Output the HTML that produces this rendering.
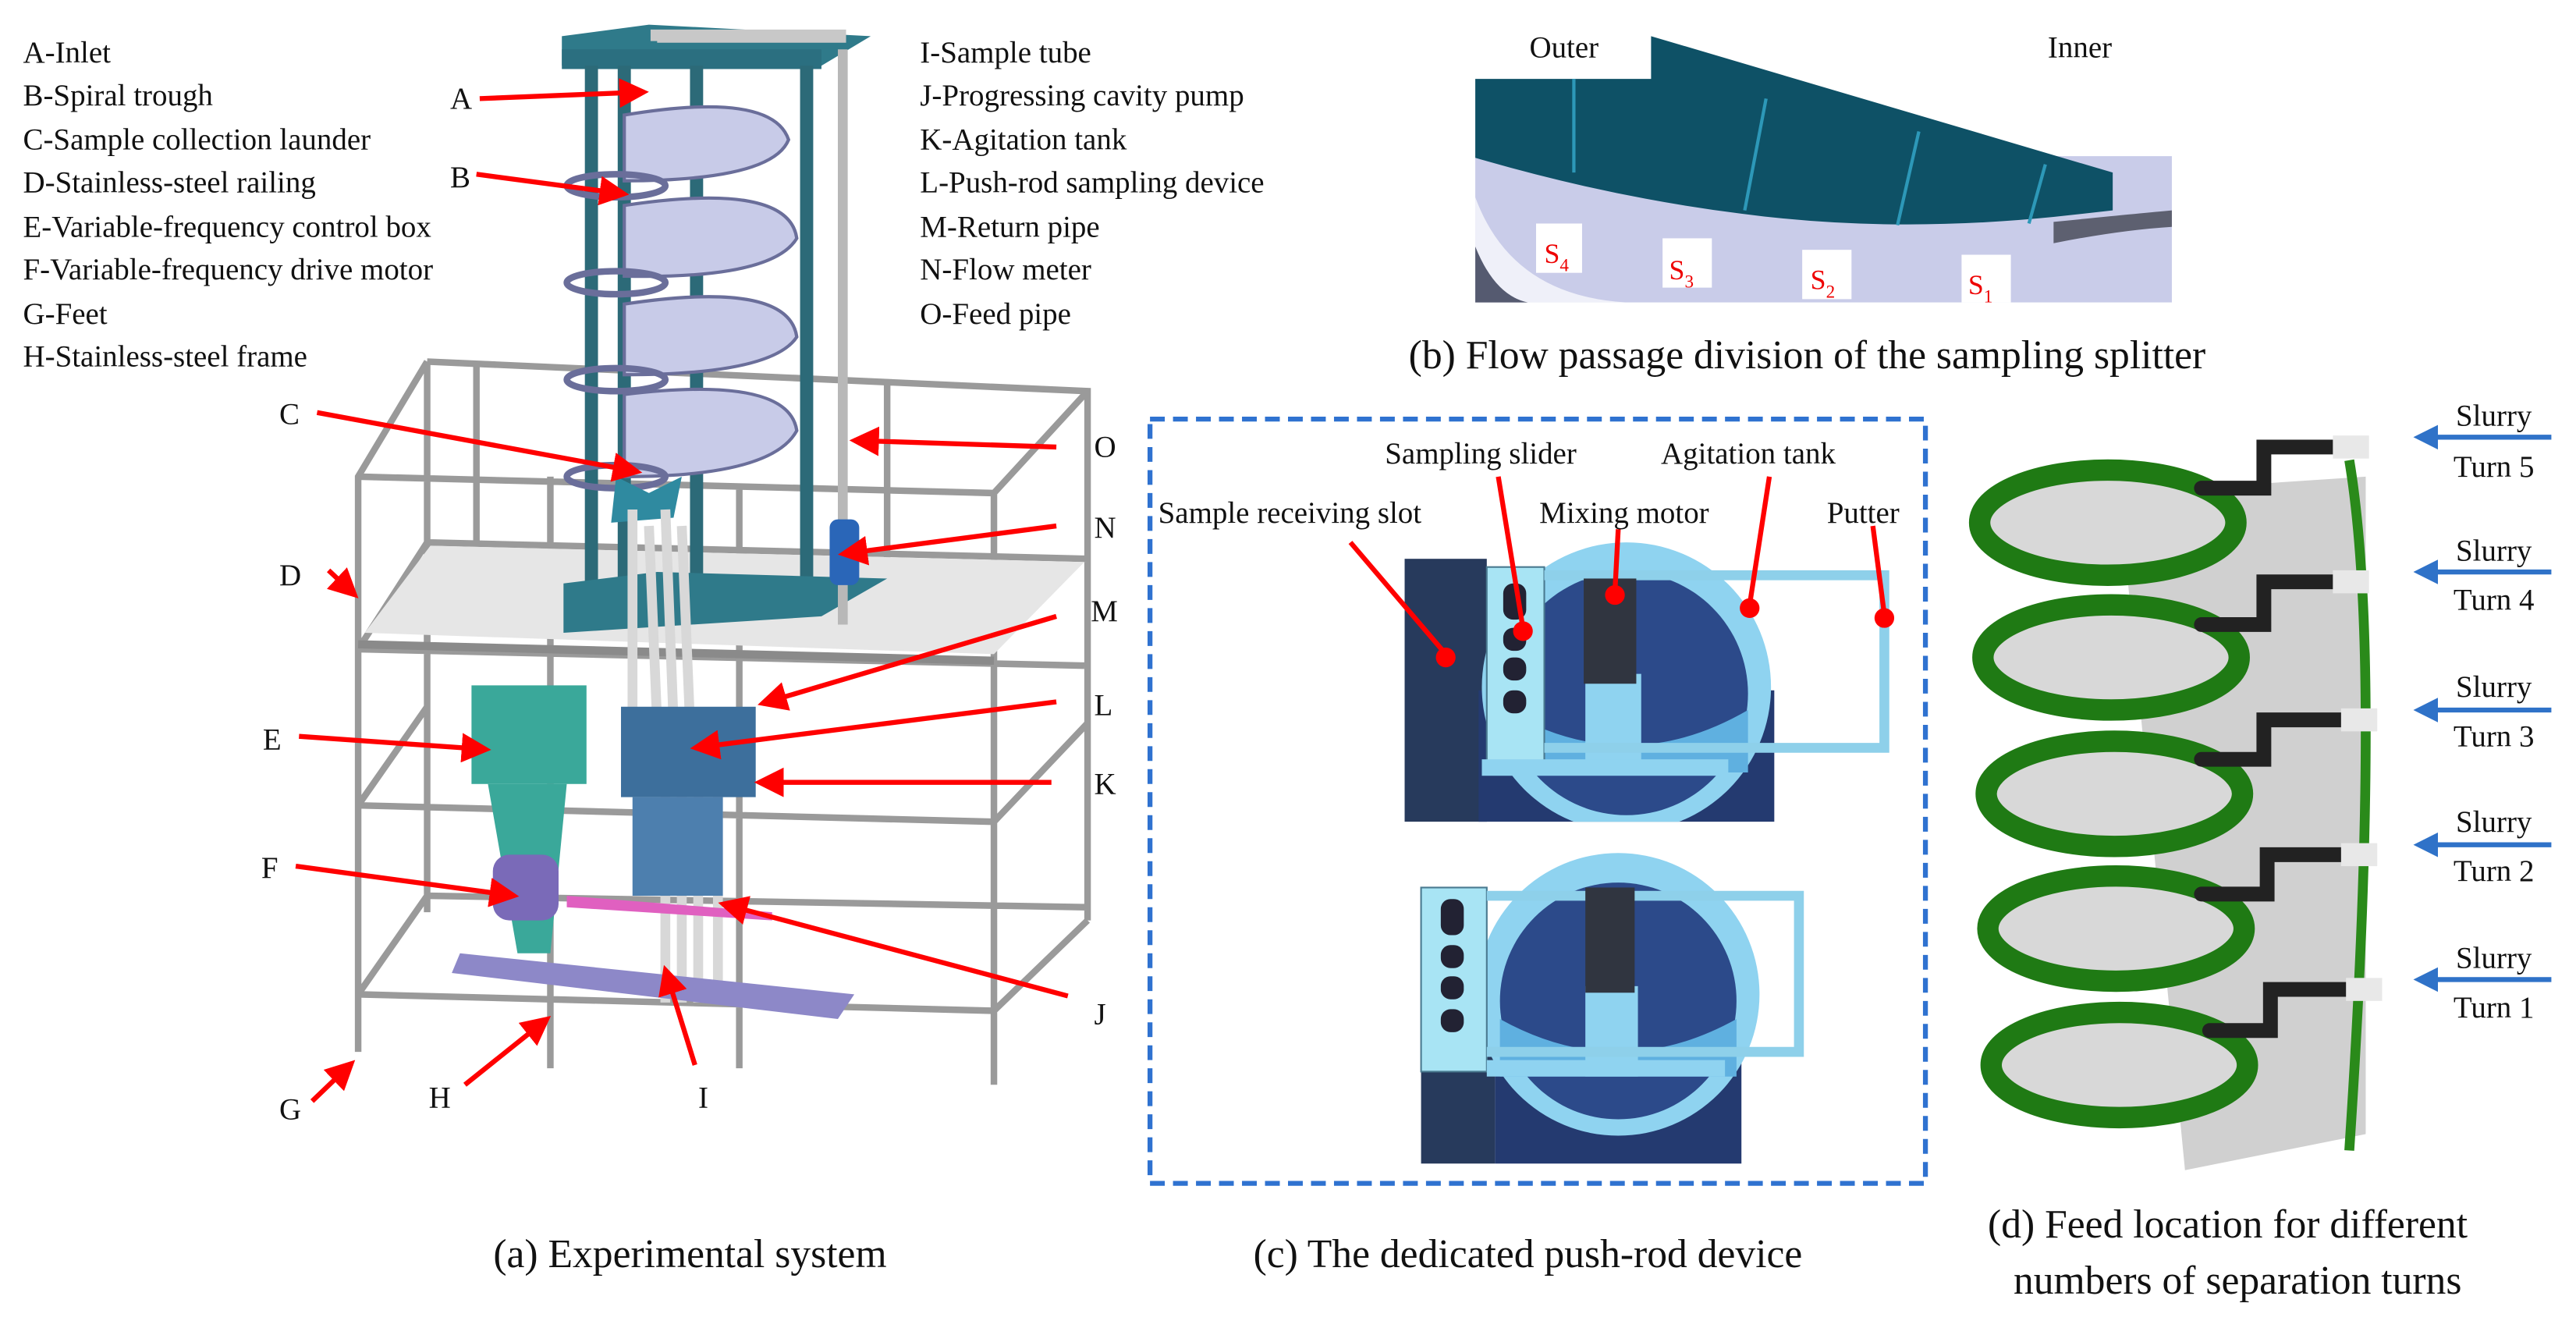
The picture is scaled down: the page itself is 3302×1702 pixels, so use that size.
<!DOCTYPE html>
<html><head><meta charset="utf-8"><style>
html,body{margin:0;padding:0;background:#fff;}
svg{display:block;}
svg text{font-family:"Liberation Serif","Tinos","Times New Roman","Nimbus Roman","DejaVu Serif","Noto Serif CJK SC",serif !important;fill:#111;}
</style></head><body>
<svg width="3302" height="1702" viewBox="0 0 1568 808" preserveAspectRatio="none" xmlns="http://www.w3.org/2000/svg">
<defs>
<marker id="ar" markerWidth="6" markerHeight="6" refX="5" refY="3" orient="auto" markerUnits="strokeWidth"><path d="M0,0 L6,3 L0,6 z" fill="#f00"/></marker>
<marker id="ab" markerWidth="5" markerHeight="5" refX="4" refY="2.5" orient="auto" markerUnits="strokeWidth"><path d="M0,0 L5,2.5 L0,5 z" fill="#2f72c8"/></marker>
<clipPath id="c1"><rect x="840" y="320" width="330" height="180"/></clipPath>
<clipPath id="c2"><rect x="840" y="512" width="330" height="196"/></clipPath>
</defs>
<rect width="1568" height="808" fill="#fff"/>

<g font-size="18.5">
<text x="14" y="38">A-Inlet</text>
<text x="14" y="64">B-Spiral trough</text>
<text x="14" y="91">C-Sample collection launder</text>
<text x="14" y="117">D-Stainless-steel railing</text>
<text x="14" y="144">E-Variable-frequency control box</text>
<text x="14" y="170">F-Variable-frequency drive motor</text>
<text x="14" y="197">G-Feet</text>
<text x="14" y="223">H-Stainless-steel frame</text>
<text x="560" y="38">I-Sample tube</text>
<text x="560" y="64">J-Progressing cavity pump</text>
<text x="560" y="91">K-Agitation tank</text>
<text x="560" y="117">L-Push-rod sampling device</text>
<text x="560" y="144">M-Return pipe</text>
<text x="560" y="170">N-Flow meter</text>
<text x="560" y="197">O-Feed pipe</text>
</g>

<g stroke="#9a9a9a" stroke-width="4" fill="none">
<path d="M260,220 L662,238 L662,560 M260,220 L260,555 M260,220 L218,290 L218,640 M218,290 L605,300 L605,660 M662,238 L605,300 M218,395 L660,405 M218,395 L260,330 L662,340 M218,490 L605,500 L662,440 M218,490 L260,430 M218,605 L605,615 L662,560 M218,605 L260,545 L662,552 M335,290 L335,650 M450,295 L450,650 M605,405 L605,500"/>
<path d="M260,330 L260,395 M290,220 L290,330 M540,232 L540,340"/>
</g>
<path d="M222,385 L262,332 L660,342 L605,398 Z" fill="#e6e6e6"/>
<path d="M218,392 L605,402" stroke="#8a8a8a" stroke-width="5"/>
<path d="M342,22 L395,15 L530,22 L500,40 L342,40 Z" fill="#2f7a8a"/>
<rect x="342" y="30" width="158" height="12" fill="#2b6f80"/>
<g fill="#2c6a78"><rect x="356" y="40" width="8" height="335"/><rect x="376" y="40" width="8" height="340"/><rect x="420" y="40" width="8" height="335"/><rect x="487" y="40" width="8" height="330"/></g>
<g fill="#c8cbe8" stroke="#6a6e9a" stroke-width="2">
<path d="M380,70 Q470,55 480,85 Q470,110 380,110 Z"/>
<path d="M380,125 Q480,110 485,145 Q470,170 380,168 Z"/>
<path d="M380,185 Q480,170 485,205 Q470,228 380,228 Z"/>
<path d="M380,240 Q480,228 485,262 Q470,290 380,290 Z"/>
</g>
<g fill="none" stroke="#6a6e9a" stroke-width="4">
<ellipse cx="375" cy="113" rx="30" ry="7"/><ellipse cx="375" cy="172" rx="30" ry="7"/><ellipse cx="375" cy="231" rx="30" ry="7"/><ellipse cx="375" cy="290" rx="30" ry="7"/></g>
<path d="M375,290 L395,300 L415,290 L410,315 L372,318 Z" fill="#2f8aa0"/>
<path d="M343,355 L400,348 L540,352 L500,375 L343,385 Z" fill="#2f7a8a"/>
<path d="M513,30 L513,380" stroke="#b8b8b8" stroke-width="6"/>
<path d="M400,25 L400,22 L515,22" stroke="#c8c8c8" stroke-width="8" fill="none"/>
<rect x="505" y="316" width="18" height="40" rx="5" fill="#2a66b8"/>
<g stroke="#d8d8d8" stroke-width="6"><path d="M385,310 L385,440 M395,320 L400,440 M405,310 L410,440 M415,320 L420,440"/><path d="M405,470 L405,610 M415,480 L415,610 M425,480 L425,610 M437,480 L437,605"/></g>
<rect x="378" y="430" width="82" height="55" fill="#3d6f9c"/>
<rect x="385" y="485" width="55" height="60" fill="#4d7fae"/>
<rect x="287" y="417" width="70" height="60" fill="#3aa89a"/>
<path d="M297,477 L345,477 L335,580 L315,580 Z" fill="#3aa89a"/>
<rect x="300" y="520" width="40" height="40" rx="10" fill="#7a6ab8"/>
<path d="M345,545 L470,555 L470,560 L345,552 Z" fill="#e060c0"/>
<path d="M280,580 L520,605 L510,620 L275,592 Z" fill="#8d88c8"/>
<g stroke="#f00" stroke-width="3" marker-end="url(#ar)">
<line x1="292" y1="60" x2="392" y2="56"/>
<line x1="290" y1="106" x2="380" y2="118"/>
<line x1="193" y1="251" x2="388" y2="287"/>
<line x1="200" y1="347" x2="216" y2="362"/>
<line x1="182" y1="448" x2="296" y2="456"/>
<line x1="180" y1="527" x2="313" y2="545"/>
<line x1="190" y1="670" x2="214" y2="647"/>
<line x1="283" y1="660" x2="333" y2="620"/>
<line x1="423" y1="648" x2="405" y2="590"/>
<line x1="650" y1="606" x2="440" y2="550"/>
<line x1="640" y1="476" x2="462" y2="476"/>
<line x1="643" y1="427" x2="423" y2="455"/>
<line x1="643" y1="375" x2="464" y2="428"/>
<line x1="643" y1="320" x2="513" y2="337"/>
<line x1="643" y1="272" x2="520" y2="268"/>
</g>
<g font-size="18.5">
<text x="274" y="66">A</text><text x="274" y="114">B</text><text x="170" y="258">C</text><text x="170" y="356">D</text>
<text x="160" y="456">E</text><text x="159" y="534">F</text><text x="170" y="681">G</text><text x="261" y="674">H</text>
<text x="425" y="674">I</text><text x="666" y="623">J</text><text x="666" y="483">K</text><text x="666" y="435">L</text>
<text x="664" y="378">M</text><text x="666" y="327">N</text><text x="666" y="278">O</text>
</g>
<text x="420" y="771" font-size="24.5" text-anchor="middle">(a) Experimental system</text>

<rect x="898" y="95" width="424" height="89" fill="#c9cce9"/>
<path d="M898,120 Q920,180 990,184 L898,184 Z" fill="#fff" opacity="0.7"/>
<path d="M898,150 Q910,180 930,184 L898,184 Z" fill="#555a70"/>
<path d="M898,48 L1005,48 L1005,22 L1286,105 L1286,128 L1250,132 Q1150,142 1060,130 Q980,120 898,96 Z" fill="#0e5166"/>
<g stroke="#2d98b8" stroke-width="2"><line x1="958" y1="48" x2="958" y2="105"/><line x1="1075" y1="60" x2="1062" y2="128"/><line x1="1168" y1="80" x2="1155" y2="137"/><line x1="1245" y1="100" x2="1235" y2="136"/></g>
<path d="M1250,135 Q1300,130 1322,128 L1322,138 Q1290,140 1250,148 Z" fill="#5d6070"/>
<g font-size="17"><rect x="935" y="136" width="28" height="30" fill="#fff"/><rect x="1012" y="145" width="30" height="30" fill="#fff"/><rect x="1097" y="152" width="30" height="30" fill="#fff"/><rect x="1194" y="155" width="30" height="29" fill="#fff"/>
<text x="940" y="160" style="fill:#e00">S<tspan font-size="11" dy="5">4</tspan></text>
<text x="1016" y="170" style="fill:#e00">S<tspan font-size="11" dy="5">3</tspan></text>
<text x="1102" y="176" style="fill:#e00">S<tspan font-size="11" dy="5">2</tspan></text>
<text x="1198" y="179" style="fill:#e00">S<tspan font-size="11" dy="5">1</tspan></text></g>
<text x="952" y="35" font-size="18.5" text-anchor="middle">Outer</text>
<text x="1266" y="35" font-size="18.5" text-anchor="middle">Inner</text>
<text x="1100" y="224" font-size="24.5" text-anchor="middle">(b) Flow passage division of the sampling splitter</text>

<rect x="700" y="255" width="472" height="465" fill="none" stroke="#2f72d0" stroke-width="3" stroke-dasharray="9,5"/>
<g clip-path="url(#c1)">
<rect x="855" y="340" width="50" height="160" fill="#273a5c"/>
<path d="M900,420 L900,500 L1080,500 L1080,420 Z" fill="#243a70"/>
<circle cx="990" cy="418" r="88" fill="#8fd3f0"/>
<circle cx="990" cy="422" r="74" fill="#2c4a8a"/>
<path d="M916,432 Q990,475 1064,432 L1064,470 L916,470 Z" fill="#5fb0e0"/>
<rect x="965" y="410" width="34" height="60" fill="#8fd3f0"/>
<rect x="905" y="345" width="35" height="120" fill="#a8e4f4" stroke="#4a7a90"/>
<g fill="#223"><rect x="915" y="355" width="14" height="22" rx="6"/><rect x="915" y="382" width="14" height="14" rx="6"/><rect x="915" y="400" width="14" height="14" rx="6"/><rect x="915" y="420" width="14" height="14" rx="6"/></g>
<path d="M940,350 L1147,350 L1147,455 L940,455" fill="none" stroke="#8ed0ea" stroke-width="6"/>
<rect x="964" y="352" width="32" height="64" fill="#303540"/>
<rect x="902" y="462" width="150" height="10" fill="#8fd3f0"/>
</g>
<g clip-path="url(#c2)">
<rect x="865" y="610" width="45" height="98" fill="#273a5c"/>
<path d="M910,600 L1060,600 L1060,708 L910,708 Z" fill="#243a70"/>
<circle cx="985" cy="605" r="86" fill="#8fd3f0"/>
<circle cx="985" cy="609" r="72" fill="#2c4a8a"/>
<path d="M913,620 Q985,660 1057,620 L1057,655 L913,655 Z" fill="#5fb0e0"/>
<rect x="965" y="600" width="32" height="55" fill="#8fd3f0"/>
<rect x="865" y="540" width="40" height="112" fill="#a8e4f4" stroke="#4a7a90"/>
<g fill="#223"><rect x="877" y="547" width="14" height="22" rx="6"/><rect x="877" y="575" width="14" height="14" rx="6"/><rect x="877" y="594" width="14" height="14" rx="6"/><rect x="877" y="614" width="14" height="14" rx="6"/></g>
<path d="M905,545 L1095,545 L1095,640 L905,640" fill="none" stroke="#8ed0ea" stroke-width="6"/>
<rect x="965" y="540" width="30" height="64" fill="#303540"/>
<rect x="905" y="645" width="145" height="10" fill="#8fd3f0"/>
</g>
<g stroke="#f00" stroke-width="3"><line x1="822" y1="330" x2="880" y2="398"/><line x1="912" y1="290" x2="927" y2="382"/><line x1="985" y1="322" x2="983" y2="360"/><line x1="1077" y1="290" x2="1065" y2="368"/><line x1="1140" y1="320" x2="1147" y2="374"/></g>
<g fill="#f00"><circle cx="880" cy="400" r="6"/><circle cx="927" cy="384" r="6"/><circle cx="983" cy="362" r="6"/><circle cx="1065" cy="370" r="6"/><circle cx="1147" cy="376" r="6"/></g>
<g font-size="18.5"><text x="705" y="318">Sample receiving slot</text><text x="843" y="282">Sampling slider</text><text x="937" y="318">Mixing motor</text><text x="1011" y="282">Agitation tank</text><text x="1112" y="318">Putter</text></g>
<text x="930" y="771" font-size="24.5" text-anchor="middle">(c) The dedicated push-rod device</text>

<path d="M1290,300 L1440,290 L1440,690 L1330,712 Z" fill="#d0d0d0"/>
<g fill="#d8d8d8" stroke="#1f7a14" stroke-width="13">
<ellipse cx="1283" cy="318" rx="78" ry="32"/>
<ellipse cx="1285" cy="400" rx="78" ry="32"/>
<ellipse cx="1287" cy="483" rx="78" ry="32"/>
<ellipse cx="1288" cy="565" rx="78" ry="32"/>
<ellipse cx="1290" cy="648" rx="78" ry="32"/>
</g>
<path d="M1430,280 Q1450,400 1430,700" stroke="#2a8a1a" stroke-width="6" fill="none"/>
<g stroke="#222" stroke-width="9" fill="none" stroke-linecap="round">
<path d="M1340,297 L1378,297 L1378,272 L1420,272"/><path d="M1340,380 L1378,380 L1378,354 L1420,354"/><path d="M1340,462 L1378,462 L1378,438 L1425,438"/><path d="M1340,544 L1380,544 L1380,520 L1425,520"/><path d="M1345,627 L1382,627 L1382,602 L1428,602"/></g>
<g fill="#e8e8e8"><rect x="1420" y="265" width="22" height="14"/><rect x="1420" y="347" width="22" height="14"/><rect x="1425" y="431" width="22" height="14"/><rect x="1425" y="513" width="22" height="14"/><rect x="1428" y="595" width="22" height="14"/></g>
<g stroke="#2f72c8" stroke-width="3" marker-end="url(#ab)"><line x1="1553" y1="266" x2="1472" y2="266"/><line x1="1553" y1="348" x2="1472" y2="348"/><line x1="1553" y1="432" x2="1472" y2="432"/><line x1="1553" y1="514" x2="1472" y2="514"/><line x1="1553" y1="596" x2="1472" y2="596"/></g>
<g font-size="18.5" text-anchor="middle">
<text x="1518" y="259">Slurry</text><text x="1518" y="290">Turn 5</text>
<text x="1518" y="341">Slurry</text><text x="1518" y="371">Turn 4</text>
<text x="1518" y="424">Slurry</text><text x="1518" y="454">Turn 3</text>
<text x="1518" y="506">Slurry</text><text x="1518" y="536">Turn 2</text>
<text x="1518" y="589">Slurry</text><text x="1518" y="619">Turn 1</text>
</g>
<text x="1356" y="753" font-size="24.5" text-anchor="middle">(d) Feed location for different</text>
<text x="1362" y="787" font-size="24.5" text-anchor="middle">numbers of separation turns</text>
</svg>
</body></html>
